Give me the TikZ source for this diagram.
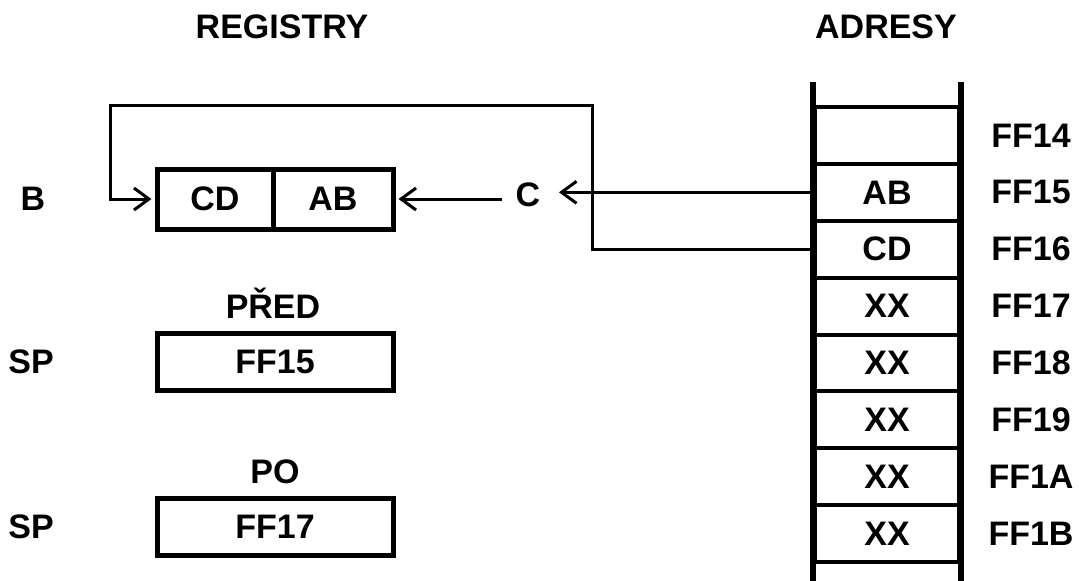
\documentclass[tikz,border=0pt]{standalone}
\usepackage{fontspec}
\setmainfont{Liberation Sans}
\usetikzlibrary{arrows.meta}
\begin{document}
\begin{tikzpicture}[x=1pt,y=-1pt,
  txt/.style={font=\fontsize{34}{40}\selectfont\bfseries},
  lbl/.style={txt, inner sep=0pt},
  reg/.style={txt, draw, line width=5pt, minimum height=60pt, inner sep=0pt},
  cell/.style={txt, draw, line width=4pt, minimum width=144pt, minimum height=56.875pt, inner sep=0pt},
  rail/.style={line width=5.5pt},
  wire/.style={line width=3pt},
  arr/.style={wire, shorten >=3pt, -{Straight Barb[length=15pt,width=22pt]}}]
\useasboundingbox (0,0) rectangle (1079,581);
% titles
\node[lbl] (reghead) at (282,27) {REGISTRY};
\node[lbl] (adrhead) at (886,27) {ADRESY};
% register pair BC
\node[lbl] (blabel) at (33,199) {B};
\node[reg, minimum width=116pt] (cd) at (215,199) {CD};
\node[reg, minimum width=120pt] (ab) at (333,199) {AB};
\node[lbl] (clabel) at (528,195) {C};
% SP before / after
\node[lbl, anchor=base] (pred) at (273,318) {PŘED};
\node[lbl] (sp1) at (31,362) {SP};
\node[reg, minimum width=236pt, minimum height=57pt] (before) at (275,361.5) {FF15};
\node[lbl] (po) at (275,472) {PO};
\node[lbl] (sp2) at (31,527) {SP};
\node[reg, minimum width=236pt, minimum height=57pt] (after) at (275,526.5) {FF17};
% memory stack
\foreach \a/\v [count=\k from 0] in {14/{}, 15/AB, 16/CD, 17/XX, 18/XX, 19/XX, 1A/XX, 1B/XX}{
  \node[cell] (m\a) at (887,{107+56.875*(\k+0.5)}) {\v};
  \node[lbl] (a\a) at (1031,{107+56.875*(\k+0.5)}) {FF\a};
}
\coordinate (top) at (0,82);
\coordinate (bot) at (0,590);
\draw[rail] (m14.north west |- top) -- (m1B.south west |- bot);
\draw[rail] (m14.north east |- top) -- (m1B.south east |- bot);
% connectors
\coordinate (cin) at (556,0);
\coordinate (cout) at (502,0);
\coordinate (wr) at (592,105);
\coordinate (wl) at (110,105);
\draw[arr] (m15.west) -- (m15.west -| cin);
\draw[arr] (cout |- ab.east) -- (ab.east);
\draw[arr] (m16.west) -- (m16.west -| wr) |- (wl) |- (cd.west);
\end{tikzpicture}
\end{document}
